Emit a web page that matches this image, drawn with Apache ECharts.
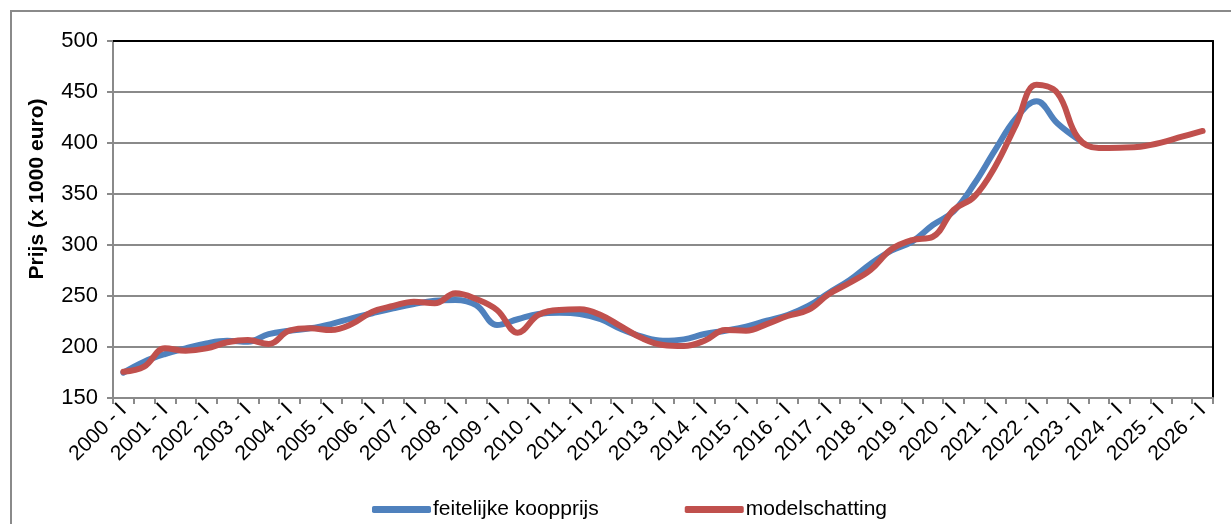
<!DOCTYPE html>
<html>
<head>
<meta charset="utf-8">
<script src="https://cdn.jsdelivr.net/npm/echarts@6/dist/echarts.min.js"></script>
<style>
html,body{margin:0;padding:0;background:#fff;}
#chart{width:1231px;height:524px;}
</style>
</head>
<body>
<div id="chart"></div>
<script>
// Semi-annual categories 2000-I .. 2026-I
const years = [];
for (let y = 2000; y <= 2026; y++) years.push(y);
const categories = [];
years.forEach(y => {
  categories.push(y + ' - I');
  if (y < 2026) categories.push(y + ' - II');
});

const yTicks = [150, 200, 250, 300, 350, 400, 450, 500];

const feitelijke = [
  174.8, 185.6, 193.1, 198.7, 203.6, 206.2, 205.2, 212.7, 216, 218.3,
  222.5, 228.1, 233.1, 237.9, 242.2, 245.4, 246.1, 241, 221.6, 227.2,
  232.4, 233.6, 232.4, 227.2, 217.4, 210.1, 206.2, 207.5, 212.7, 216,
  219.9, 225.8, 231.4, 240.2, 253.2, 265.7, 281.4, 294.4, 303.2, 319.6,
  333, 360, 393, 424, 441, 419.3, 403.6,
  null, null, null, null, null, null
];

const modelschatting = [
  175.8, 180.7, 198.7, 196.4, 198.7, 204.6, 206.9, 202.9, 216, 218.3,
  216.7, 222.5, 234.6, 240.2, 244.4, 242.8, 252.6, 247, 236.3, 214,
  231.4, 236.3, 236.9, 231.4, 219.9, 208.5, 202, 201, 206.2, 216.7,
  216, 222.5, 230.4, 236.3, 252, 263, 275.5, 295.8, 304.9, 308.1,
  334.3, 347.4, 376.8, 417.6, 457, 449, 405, 395, 395.4, 396.4,
  400.3, 406.2, 411.8
];

const FONT = 'Liberation Sans, Arial, sans-serif';
const chart = echarts.init(document.getElementById('chart'));
chart.setOption({
  backgroundColor: '#fff',
  animation: false,
  textStyle: { fontFamily: FONT },
  grid: { left: 113, right: 18, top: 41, bottom: 126, containLabel: false },
  graphic: [
    {
      type: 'rect',
      shape: { x: 11, y: 11, width: 1240, height: 540 },
      style: { fill: 'none', stroke: '#8a8a8a', lineWidth: 2 },
      silent: true
    },
    {
      type: 'text',
      x: 37, y: 189,
      rotation: Math.PI / 2,
      style: {
        text: 'Prijs (x 1000 euro)',
        font: 'bold 21px ' + FONT,
        fill: '#000',
        align: 'center',
        verticalAlign: 'middle'
      },
      silent: true
    }
  ],
  legend: {
    left: 367,
    top: 494,
    itemGap: 86,
    itemWidth: 59,
    itemHeight: 7,
    icon: 'roundRect',
    textStyle: { fontSize: 21, color: '#000', fontFamily: FONT, padding: [0, 0, 0, -3] },
    data: ['feitelijke koopprijs', 'modelschatting']
  },
  xAxis: [
    {
      type: 'category',
      data: categories,
      boundaryGap: true,
      axisLine: { lineStyle: { color: '#8a8a8a', width: 2 } },
      axisTick: { show: true, interval: 0, length: 6, lineStyle: { color: '#8a8a8a', width: 2 } },
      axisLabel: {
        interval: 1,
        rotate: 45,
        fontSize: 21,
        color: '#000',
        fontFamily: FONT,
        margin: 9
      },
      splitLine: { show: false }
    },
    {
      type: 'category',
      data: categories,
      position: 'top',
      axisLine: { lineStyle: { color: '#000', width: 2 } },
      axisTick: { show: false },
      axisLabel: { show: false },
      splitLine: { show: false }
    }
  ],
  yAxis: [
    {
      type: 'value',
      min: yTicks[0],
      max: yTicks[yTicks.length - 1],
      interval: 50,
      axisLine: { show: true, lineStyle: { color: '#8a8a8a', width: 2 } },
      axisTick: { show: true, length: 6, lineStyle: { color: '#8a8a8a', width: 2 } },
      axisLabel: { fontSize: 22, color: '#000', fontFamily: FONT, margin: 15 },
      splitLine: { show: true, lineStyle: { color: '#8a8a8a', width: 2 } }
    },
    {
      type: 'value',
      min: yTicks[0],
      max: yTicks[yTicks.length - 1],
      interval: 50,
      position: 'right',
      axisLine: { show: true, lineStyle: { color: '#000', width: 2 } },
      axisTick: { show: false },
      axisLabel: { show: false },
      splitLine: { show: false }
    }
  ],
  series: [
    {
      name: 'feitelijke koopprijs',
      type: 'line',
      data: feitelijke,
      smooth: 0.4,
      showSymbol: false,
      symbol: 'none',
      connectNulls: false,
      color: '#4f81bd',
      lineStyle: { color: '#4f81bd', width: 6, cap: 'round', join: 'round' },
      z: 3
    },
    {
      name: 'modelschatting',
      type: 'line',
      data: modelschatting,
      smooth: 0.4,
      showSymbol: false,
      symbol: 'none',
      color: '#c0504d',
      lineStyle: { color: '#c0504d', width: 6, cap: 'round', join: 'round' },
      z: 4
    }
  ]
});
</script>
</body>
</html>
